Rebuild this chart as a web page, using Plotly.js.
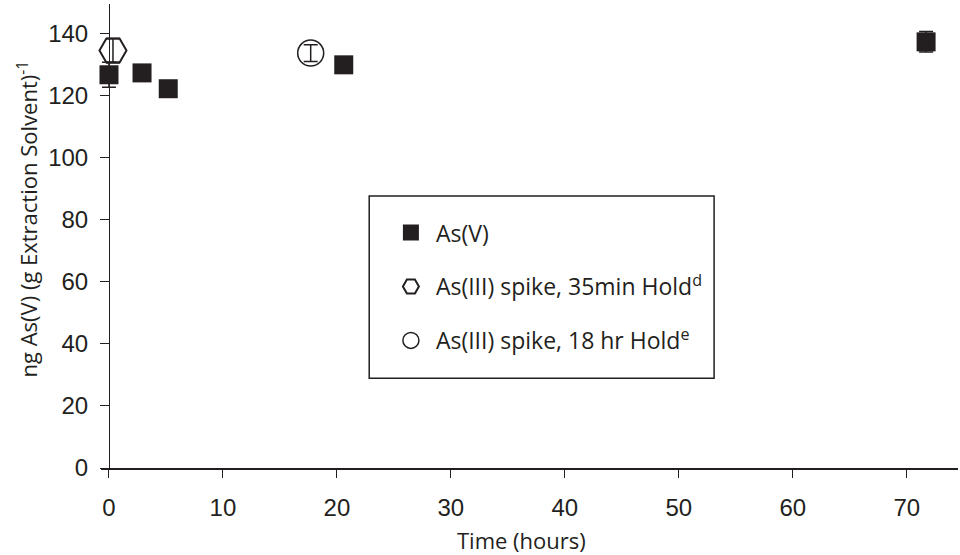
<!DOCTYPE html>
<html>
<head>
<meta charset="utf-8">
<script src="https://cdn.plot.ly/plotly-3.0.1.min.js"></script>
<style>html,body{margin:0;padding:0;background:#fff;}#chart{width:960px;height:555px;}</style>
</head>
<body>
<div id="chart"></div>
<script>
// As(V) series
const asvTime = [0, 2.9, 5.2, 20.6, 71.7];
const asvValue = [126.7, 127.3, 122.2, 129.9, 137.3];
const asvErr = [4.0, 2.0, 2.0, 2.5, 3.3];
// As(III) spike, 35 min hold
const spike35Time = [0.35];
const spike35Value = [134.5];
const spike35Err = [4.0];
// As(III) spike, 18 hr hold
const spike18Time = [17.7];
const spike18Value = [133.7];
const spike18Err = [2.7];

const xTicks = [0, 10, 20, 30, 40, 50, 60, 70];
const yTicks = [0, 20, 40, 60, 80, 100, 120, 140];

const xTitle = 'Time (hours)';
const yTitle = 'ng As(V) (g Extraction Solvent)<sup>-1</sup>';

const titleFont = "Open Sans, Noto Sans, sans-serif";
const tickFont = "Liberation Sans, Arial, sans-serif";
const ink = '#231f20';

const errStyle = (arr) => ({type: 'data', array: arr, visible: true, color: ink, thickness: 1.5, width: 7});

const traces = [
  {
    x: asvTime, y: asvValue, type: 'scatter', mode: 'markers', name: 'As(V)',
    legendgroup: 'a',
    marker: {symbol: 'square', size: 19, color: ink, line: {width: 0}},
    error_y: errStyle(asvErr), cliponaxis: false
  },
  {
    x: spike35Time, y: spike35Value, type: 'scatter', mode: 'markers', name: 'As(III) spike, 35min Hold<sup>d</sup>',
    legendgroup: 'b',
    marker: {symbol: 'hexagon2-open', size: 27, color: ink, line: {width: 2, color: ink}},
    error_y: errStyle(spike35Err), cliponaxis: false
  },
  {
    x: spike18Time, y: spike18Value, type: 'scatter', mode: 'markers', name: 'As(III) spike, 18 hr Hold<sup>e</sup>',
    legendgroup: 'c',
    marker: {symbol: 'circle-open', size: 26, color: ink, line: {width: 1.5, color: ink}},
    error_y: errStyle(spike18Err), cliponaxis: false
  }
];

// plot area in pixels
const L = 100.7, R = 958, T = 4, B = 467.7;
const px2x = (px) => (px - L) / (R - L);
const px2y = (py) => (B - py) / (B - T);

const layout = {
  width: 960, height: 555,
  margin: {l: L, r: 960 - R, t: T, b: 555 - B},
  paper_bgcolor: '#fff', plot_bgcolor: '#fff',
  showlegend: true,
  legend: {
    x: px2x(385.7), y: px2y(211), xanchor: 'left', yanchor: 'top',
    bgcolor: 'rgba(0,0,0,0)', borderwidth: 0,
    font: {family: titleFont, size: 23, color: ink},
    traceorder: 'grouped', tracegroupgap: 21, itemwidth: 40
  },
  shapes: [
    {type: 'rect', xref: 'paper', yref: 'paper',
     x0: px2x(369), x1: px2x(714), y0: px2y(378), y1: px2y(196),
     line: {color: ink, width: 1.5}, fillcolor: 'rgba(0,0,0,0)', layer: 'below'}
  ],
  annotations: [
    {text: xTitle, xref: 'paper', yref: 'paper', x: px2x(521), y: px2y(540),
     xanchor: 'center', yanchor: 'middle', showarrow: false,
     font: {family: titleFont, size: 22, color: ink}},
    {text: yTitle, xref: 'paper', yref: 'paper', x: px2x(27), y: px2y(219),
     xanchor: 'center', yanchor: 'middle', showarrow: false, textangle: -90,
     font: {family: titleFont, size: 22, color: ink}}
  ],
  xaxis: {
    range: [-0.7, 74.5], tickvals: xTicks, ticktext: xTicks.map(String),
    showgrid: false, zeroline: false, showline: true, linecolor: ink, linewidth: 1.5,
    ticks: 'outside', ticklen: 8, tickwidth: 1, tickcolor: ink,
    tickfont: {family: tickFont, size: 24, color: ink}, ticklabelstandoff: 10
  },
  yaxis: {
    range: [0, 149.5], tickvals: yTicks, ticktext: yTicks.map(String),
    anchor: 'free', position: 0.7 / 75.2,
    showgrid: false, zeroline: false, showline: true, linecolor: ink, linewidth: 1.5,
    ticks: 'outside', ticklen: 9, tickwidth: 1, tickcolor: ink,
    tickfont: {family: tickFont, size: 24, color: ink}, ticklabelstandoff: 7
  }
};

Plotly.newPlot('chart', traces, layout, {staticPlot: true, displayModeBar: false});
</script>
</body>
</html>
